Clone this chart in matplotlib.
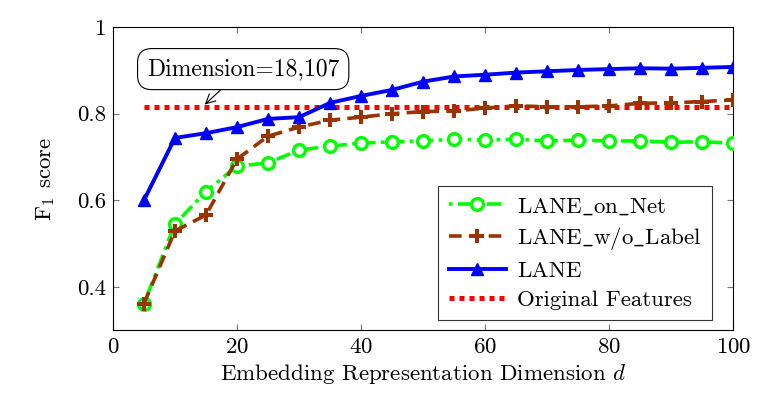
import matplotlib
matplotlib.use("Agg")
import matplotlib.pyplot as plt
from matplotlib.ticker import FixedLocator, FixedFormatter

plt.rcParams['font.family'] = 'serif'
plt.rcParams['font.serif'] = ['cmr10', 'DejaVu Serif']
plt.rcParams['mathtext.fontset'] = 'cm'
plt.rcParams['axes.formatter.use_mathtext'] = True

dims = [5, 10, 15, 20, 25, 30, 35, 40, 45, 50, 55, 60, 65, 70, 75, 80, 85, 90, 95, 100]
lane_on_net = [0.361, 0.545, 0.620, 0.679, 0.686, 0.716, 0.725, 0.732, 0.735, 0.737,
               0.741, 0.739, 0.741, 0.737, 0.739, 0.737, 0.737, 0.734, 0.735, 0.732]
lane_wo_label = [0.361, 0.529, 0.566, 0.695, 0.748, 0.769, 0.785, 0.792, 0.800, 0.805,
                 0.806, 0.813, 0.818, 0.816, 0.816, 0.818, 0.824, 0.825, 0.828, 0.832]
lane = [0.600, 0.744, 0.755, 0.769, 0.788, 0.792, 0.825, 0.841, 0.855, 0.874,
        0.886, 0.890, 0.895, 0.898, 0.901, 0.903, 0.905, 0.904, 0.906, 0.908]
original = 0.815
labels = [r'LANE$\_$on$\_$Net', r'LANE$\_$w/o$\_$Label', 'LANE', 'Original Features']

fig = plt.figure(figsize=(7.63, 3.93), dpi=100)
ax = fig.add_axes([0.148, 0.160, 0.813, 0.771])

ax.plot(dims, lane_on_net, color='#00ff00', lw=2.6, linestyle=(0, (1, 1.5, 4, 1.5)),
        marker='o', markersize=8.5, markerfacecolor='white', markeredgewidth=2.4,
        label=labels[0], zorder=3)
ax.plot(dims, lane_wo_label, color='#993300', lw=2.6, linestyle=(0, (3.5, 2)),
        marker='P', markersize=9.5, markeredgewidth=0, label=labels[1], zorder=4)
ax.plot(dims, lane, color='#0000ff', lw=2.8, marker='^', markersize=9,
        label=labels[2], zorder=5)
ax.plot([dims[0], dims[-1]], [original, original], color='#ff0000', lw=3.6,
        linestyle=(0, (1, 1)), dash_capstyle='butt', label=labels[3], zorder=2)

ax.annotate('Dimension=18,107', xy=(14.8, 0.821), xytext=(21.0, 0.903),
            fontsize=17, ha='center', va='center',
            bbox=dict(boxstyle='round,pad=0.4,rounding_size=0.6', fc='white', ec='black', lw=0.8),
            arrowprops=dict(arrowstyle='->', color='black', lw=0.8, shrinkA=0, shrinkB=0))

ax.set_xlim(0, 100)
ax.set_ylim(0.3, 1.0)
ax.xaxis.set_major_locator(FixedLocator([0, 20, 40, 60, 80, 100]))
ax.yaxis.set_major_locator(FixedLocator([0.4, 0.6, 0.8, 1.0]))
ax.yaxis.set_major_formatter(FixedFormatter(['0.4', '0.6', '0.8', '1']))
ax.tick_params(direction='in', top=True, right=True, length=4, color='#777777',
               labelsize=16.5, pad=5)
ax.set_xlabel('Embedding Representation Dimension $d$', fontsize=16.5)
ax.set_ylabel('F$_1$ score', fontsize=16.5, labelpad=14)

leg = ax.legend(loc='lower right', bbox_to_anchor=(0.966, 0.033), borderaxespad=0,
                fontsize=16.5, frameon=True, fancybox=False, edgecolor='black',
                handlelength=2.5, borderpad=0.45, labelspacing=0.38, handletextpad=0.5)
leg.get_frame().set_linewidth(0.8)

fig.savefig('out.png', dpi=100)
